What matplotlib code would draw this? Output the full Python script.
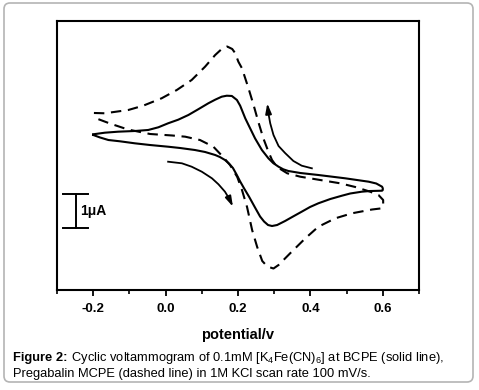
import matplotlib
matplotlib.use('Agg')
import matplotlib.pyplot as plt
from matplotlib.patches import FancyBboxPatch

plt.rcParams['font.family'] = ['Liberation Sans', 'DejaVu Sans']
plt.rcParams['mathtext.fontset'] = 'custom'
plt.rcParams['mathtext.rm'] = 'Liberation Sans'
plt.rcParams['mathtext.it'] = 'Liberation Sans:italic'
plt.rcParams['mathtext.bf'] = 'Liberation Sans:bold'
plt.rcParams['axes.unicode_minus'] = False

# ---- data: potential (V) and current (uA) ----
# BCPE (solid line): upper branch left->right, then lower branch right->left
bcpe_up_E = [-0.200, -0.168, -0.131, -0.085, -0.048, -0.020, 0.007, 0.035, 0.063, 0.090,
             0.118, 0.137, 0.155, 0.169, 0.183, 0.197, 0.206, 0.220, 0.229, 0.247, 0.266,
             0.284, 0.297, 0.312, 0.325, 0.339, 0.372, 0.422, 0.496, 0.561, 0.582, 0.598, 0.600]
bcpe_up_I = [1.344, 1.391, 1.421, 1.441, 1.471, 1.550, 1.668, 1.774, 1.912, 2.079,
             2.256, 2.362, 2.450, 2.479, 2.471, 2.353, 2.185, 1.815, 1.618, 1.226, 0.882,
             0.638, 0.500, 0.391, 0.315, 0.265, 0.206, 0.147, 0.050, -0.050, -0.103, -0.197, -0.244]
bcpe_down_E = [0.600, 0.598, 0.565, 0.542, 0.510, 0.487, 0.455, 0.422, 0.399, 0.376, 0.352,
               0.330, 0.308, 0.294, 0.283, 0.272, 0.261, 0.247, 0.231, 0.217, 0.206, 0.196,
               0.186, 0.175, 0.164, 0.150, 0.137, 0.109, 0.081, 0.040, 0.007, -0.043, -0.085,
               -0.126, -0.158, -0.181, -0.200]
bcpe_down_I = [-0.294, -0.315, -0.324, -0.344, -0.397, -0.462, -0.559, -0.685, -0.794, -0.932, -1.074,
               -1.206, -1.324, -1.353, -1.324, -1.221, -1.074, -0.809, -0.500, -0.250, -0.044, 0.162,
               0.353, 0.485, 0.588, 0.676, 0.735, 0.824, 0.882, 0.941, 0.979, 1.029, 1.079,
               1.138, 1.176, 1.250, 1.324]

# Pregabalin MCPE (dashed line)
mcpe_up_E = [-0.198, -0.168, -0.103, -0.062, -0.011, 0.031, 0.072, 0.109, 0.137, 0.155,
             0.170, 0.184, 0.192, 0.201, 0.211, 0.229, 0.243, 0.256, 0.270, 0.284, 0.294,
             0.308, 0.336, 0.372, 0.427, 0.482, 0.524, 0.565, 0.588, 0.601, 0.601, 0.598]
mcpe_up_I = [1.971, 1.962, 2.059, 2.185, 2.403, 2.647, 2.941, 3.332, 3.676, 3.853,
             3.926, 3.853, 3.735, 3.479, 3.285, 2.697, 2.206, 1.715, 1.226, 0.832, 0.588,
             0.382, 0.197, 0.097, 0.000, -0.097, -0.206, -0.344, -0.441, -0.588, -0.735, -0.832]
mcpe_down_E = [0.598, 0.570, 0.515, 0.469, 0.422, 0.386, 0.344, 0.312, 0.298, 0.281, 0.267,
               0.253, 0.239, 0.225, 0.211, 0.198, 0.178, 0.159, 0.132, 0.095, 0.054, 0.018,
               -0.043, -0.104, -0.154, -0.187, -0.198]
mcpe_down_I = [-0.832, -0.868, -0.979, -1.126, -1.374, -1.715, -2.156, -2.500, -2.603, -2.544, -2.382,
               -1.971, -1.471, -0.794, -0.294, 0.088, 0.441, 0.676, 0.979, 1.176, 1.274, 1.309,
               1.353, 1.485, 1.662, 1.794, 1.912]

# scan direction arrows
arrow1_E = [0.007, 0.045, 0.072, 0.100, 0.128, 0.146, 0.164, 0.175, 0.186]
arrow1_I = [0.538, 0.491, 0.391, 0.244, 0.050, -0.126, -0.344, -0.538, -0.785]
arrow2_E = [0.404, 0.376, 0.353, 0.330, 0.312, 0.298, 0.289, 0.284, 0.281]
arrow2_I = [0.344, 0.421, 0.559, 0.794, 1.000, 1.324, 1.668, 1.962, 2.256]

# scale bar (1 uA)
scale_E = -0.248
scale_I0 = -1.412
scale_len = 1.0
scale_label = '1\u03bcA'

x_ticks = [-0.2, 0.0, 0.2, 0.4, 0.6]
x_tick_labels = ['-0.2', '0.0', '0.2', '0.4', '0.6']
x_minor = [-0.3, -0.1, 0.1, 0.3, 0.5, 0.7]
x_label = 'potential/v'
caption_bold = 'Figure 2:'
caption_1 = ' Cyclic voltammogram of 0.1mM [K$_4$Fe(CN)$_6$] at BCPE (solid line),'
caption_2 = 'Pregabalin MCPE (dashed line) in 1M KCl scan rate 100 mV/s.'

W, H = 479, 390
fig = plt.figure(figsize=(W / 100, H / 100), dpi=100)

# rounded frame around figure
frame = FancyBboxPatch((4, 8), 469, 379, boxstyle='round,pad=0,rounding_size=6',
                       transform=None, facecolor='none', edgecolor='#b4b4b4', lw=1.2,
                       zorder=-5)
fig.patches.append(frame)

ax = fig.add_axes([57 / W, 100 / H, 362 / W, 269 / H])
ax.set_facecolor('white')
lw = 1.5
ax.plot(bcpe_up_E + bcpe_down_E, bcpe_up_I + bcpe_down_I, color='black', lw=lw,
        solid_joinstyle='round')
ax.plot(mcpe_up_E + mcpe_down_E, mcpe_up_I + mcpe_down_I, color='black', lw=lw,
        dashes=(5, 3.2))

for aE, aI in ((arrow1_E, arrow1_I), (arrow2_E, arrow2_I)):
    ax.plot(aE[:-1], aI[:-1], color='black', lw=1.3, solid_joinstyle='round')
    ax.annotate('', xy=(aE[-1], aI[-1]), xytext=(aE[-2], aI[-2]),
                arrowprops=dict(arrowstyle='-|>,head_length=0.6,head_width=0.18',
                                color='black', lw=1.3, shrinkA=0, shrinkB=0,
                                mutation_scale=10))

# scale bar
ax.plot([scale_E, scale_E], [scale_I0, scale_I0 + scale_len], color='black', lw=1.4)
for yy in (scale_I0, scale_I0 + scale_len):
    ax.plot([scale_E - 0.035, scale_E + 0.035], [yy, yy], color='black', lw=1.4)
ax.text(scale_E + 0.011, scale_I0 + scale_len / 2, scale_label, fontsize=10,
        fontweight='bold', va='center', ha='left')

ax.set_xlim(-0.3, 0.7)
ax.set_ylim(-3.235, 4.676)
ax.set_yticks([])
ax.set_xticks(x_ticks)
ax.set_xticklabels(x_tick_labels, fontweight='bold', fontsize=9.5)
ax.set_xticks(x_minor, minor=True)
ax.tick_params(axis='x', which='major', direction='out', length=4, width=1.3, pad=5)
ax.tick_params(axis='x', which='minor', direction='out', length=3, width=1.2)
for s in ax.spines.values():
    s.set_linewidth(1.5)
ax.set_xlabel(x_label, fontweight='bold', fontsize=10.5, labelpad=10)

cap_fs = 9.25
y1 = (H - 361.5) / H
t1 = fig.text(13 / W, y1, caption_bold, fontsize=cap_fs, fontweight='bold',
              va='baseline', ha='left')
renderer = fig.canvas.get_renderer()
bb = t1.get_window_extent(renderer)
x2 = bb.x1 / (fig.dpi * fig.get_figwidth())
fig.text(x2, y1, caption_1, fontsize=cap_fs, va='baseline', ha='left')
fig.text(13 / W, (H - 376.5) / H, caption_2, fontsize=cap_fs, va='baseline', ha='left')

fig.savefig('out.png', dpi=100, facecolor='white')
